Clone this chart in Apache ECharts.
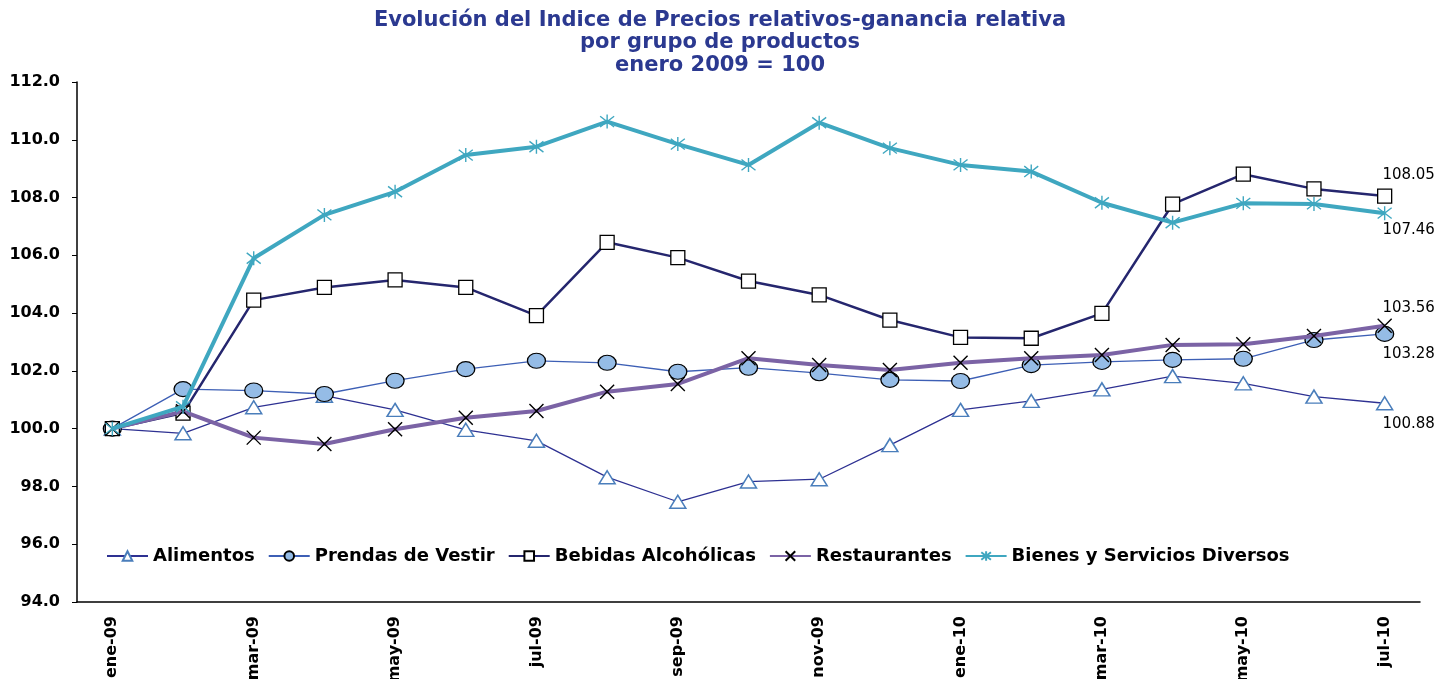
<!DOCTYPE html>
<html>
<head>
<meta charset="utf-8">
<script src="https://cdn.jsdelivr.net/npm/echarts@6/dist/echarts.min.js"></script>
<style>
html, body { margin:0; padding:0; background:#fff; }
#chart { width:1441px; height:679px; }
</style>
</head>
<body>
<div id="chart"></div>
<script>
var meses = ["ene-09","feb-09","mar-09","abr-09","may-09","jun-09","jul-09","ago-09","sep-09","oct-09","nov-09","dic-09","ene-10","feb-10","mar-10","abr-10","may-10","jun-10","jul-10"];

var alimentos = [100.00, 99.84, 100.74, 101.14, 100.65, 99.96, 99.58, 98.32, 97.47, 98.17, 98.25, 99.43, 100.65, 100.96, 101.36, 101.82, 101.57, 101.11, 100.88];
var prendas   = [100.00, 101.37, 101.32, 101.20, 101.66, 102.06, 102.35, 102.28, 101.97, 102.11, 101.92, 101.69, 101.65, 102.20, 102.31, 102.38, 102.42, 103.07, 103.28];
var bebidas   = [100.00, 100.54, 104.45, 104.89, 105.15, 104.89, 103.91, 106.45, 105.92, 105.11, 104.63, 103.76, 103.16, 103.13, 103.99, 107.77, 108.81, 108.30, 108.05];
var restaurantes = [100.00, 100.60, 99.69, 99.47, 99.98, 100.38, 100.61, 101.28, 101.55, 102.44, 102.20, 102.03, 102.28, 102.44, 102.55, 102.90, 102.92, 103.21, 103.56];
var bienes    = [100.00, 100.76, 105.90, 107.40, 108.20, 109.47, 109.76, 110.63, 109.85, 109.13, 110.59, 109.71, 109.13, 108.90, 107.82, 107.13, 107.80, 107.78, 107.46];

var fuente = "DejaVu Sans";
var X_PATH = "path://M0,0L10,10M10,0L0,10";
var AST_PATH = "path://M0,0L10,10M10,0L0,10M5,-1.5L5,11.5";

// etiqueta solo en el ultimo punto
function conEtiqueta(arr, pos, dist){
    return arr.map(function(v, i){
        if (i == arr.length - 1){
            return {
                value: v,
                label: {
                    show: true,
                    position: pos,
                    distance: dist,
                    offset: [24, 0],
                    formatter: v.toFixed(2),
                    color: "#000",
                    fontFamily: fuente,
                    fontSize: 15
                }
            };
        }
        return v;
    });
}

var chart = echarts.init(document.getElementById("chart"));

var option = {
    animation: false,
    backgroundColor: "#fff",
    title: {
        text: "Evolución del Indice de Precios relativos-ganancia relativa\npor grupo de productos\nenero 2009 = 100",
        left: 715,
        textAlign: "center",
        top: 4,
        textStyle: {
            color: "#2b3990",
            fontFamily: fuente,
            fontWeight: "bold",
            fontSize: 21,
            lineHeight: 22.5
        }
    },
    legend: {
        left: 101,
        top: 542,
        itemWidth: 41,
        itemHeight: 12,
        itemGap: 13,
        textStyle: {
            color: "#000",
            fontFamily: fuente,
            fontWeight: "bold",
            fontSize: 18,
            padding: [0, 0, 0, 0]
        },
        data: ["Alimentos","Prendas de Vestir","Bebidas Alcohólicas","Restaurantes","Bienes y Servicios Diversos"]
    },
    grid: {
        left: 77,
        right: 21,
        top: 82,
        bottom: 77,
        outerBoundsMode: "none"
    },
    xAxis: {
        type: "category",
        data: meses,
        boundaryGap: true,
        axisLine: { lineStyle: { color: "#000", width: 1.5 } },
        axisTick: { interval: 1, length: 6, lineStyle: { color: "#000" } },
        axisLabel: {
            interval: 1,
            rotate: 90,
            margin: 14,
            color: "#000",
            fontFamily: fuente,
            fontWeight: "bold",
            fontSize: 16
        },
        splitLine: { show: false }
    },
    yAxis: {
        type: "value",
        min: 94,
        max: 112,
        interval: 2,
        axisLine: { show: true, lineStyle: { color: "#000", width: 1.5 } },
        axisTick: { show: true, length: 5, lineStyle: { color: "#000" } },
        axisLabel: {
            margin: 17,
            color: "#000",
            fontFamily: fuente,
            fontWeight: "bold",
            fontSize: 16,
            formatter: function(v){ return v.toFixed(1); }
        },
        splitLine: { show: false }
    },
    series: [
        {
            name: "Alimentos",
            type: "line",
            data: conEtiqueta(alimentos, "bottom", 6),
            symbol: "triangle",
            symbolSize: [16, 13],
            lineStyle: { color: "#2e3192", width: 1.3 },
            itemStyle: { color: "#fff", borderColor: "#4a7ebb", borderWidth: 1.5 },
            z: 2
        },
        {
            name: "Prendas de Vestir",
            type: "line",
            data: conEtiqueta(prendas, "bottom", 5),
            symbol: "circle",
            symbolSize: [18, 15],
            lineStyle: { color: "#3d5fb5", width: 1.3 },
            itemStyle: { color: "#95bce6", borderColor: "#000", borderWidth: 1.2 },
            z: 3
        },
        {
            name: "Bebidas Alcohólicas",
            type: "line",
            data: conEtiqueta(bebidas, "top", 6),
            symbol: "rect",
            symbolSize: 14,
            lineStyle: { color: "#25266e", width: 2.5 },
            itemStyle: { color: "#fff", borderColor: "#000", borderWidth: 1.3 },
            z: 4
        },
        {
            name: "Restaurantes",
            type: "line",
            data: conEtiqueta(restaurantes, "top", 3),
            symbol: X_PATH,
            symbolSize: 14,
            lineStyle: { color: "#7b63a5", width: 4 },
            itemStyle: { color: "rgba(0,0,0,0)", borderColor: "#000", borderWidth: 1.4 },
            z: 5
        },
        {
            name: "Bienes y Servicios Diversos",
            type: "line",
            data: conEtiqueta(bienes, "bottom", 2),
            symbol: AST_PATH,
            symbolSize: 14,
            lineStyle: { color: "#3fa7c0", width: 4 },
            itemStyle: { color: "rgba(0,0,0,0)", borderColor: "#3fa7c0", borderWidth: 1.4 },
            z: 6
        }
    ]
};

chart.setOption(option);
</script>
</body>
</html>
